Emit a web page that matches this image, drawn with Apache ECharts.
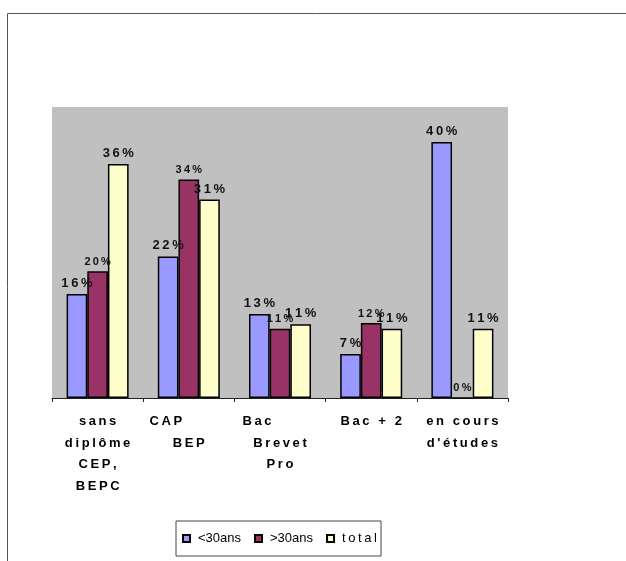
<!DOCTYPE html>
<html><head><meta charset="utf-8">
<script src="https://cdn.jsdelivr.net/npm/echarts@6/dist/echarts.min.js"></script>
<style>html,body{margin:0;padding:0;background:#fff}#c{width:626px;height:561px}</style>
</head><body><div id="c"></div>
<script>
const categories = ['sans diplôme CEP, BEPC', 'CAP BEP', 'Bac Brevet Pro', 'Bac + 2', "en cours d'études"];
const categoryLines = [['sans', 'diplôme', 'CEP,', 'BEPC'], ['CAP', 'BEP'], ['Bac', 'Brevet', 'Pro'], ['Bac + 2'], ['en cours', "d'études"]];
const seriesNames = ['<30ans', '>30ans', 'total'];
const moins30 = [16.1, 21.9, 13.0, 6.8, 39.6];
const plus30 = [19.6, 33.8, 10.7, 11.6, 0];
const total = [36.2, 30.7, 11.4, 10.7, 10.7];

const FONT = '"Liberation Sans", Arial, sans-serif';
const spaced = (s, g) => s.split('').join(g || '\u2009');
const chart = echarts.init(document.getElementById('c'), null, {renderer: 'canvas'});
const colors = ['#9999FF', '#993366', '#FFFFCC'];
const labelSizes = [13, 11, 13];
const data = [moins30, plus30, total];
const shiftLeft = {1: [0], 2: [0]};

chart.setOption({
  animation: false,
  graphic: [
    {type: 'line', shape: {x1: 7.5, y1: 13.5, x2: 626, y2: 13.5}, style: {stroke: '#555', lineWidth: 1}},
    {type: 'line', shape: {x1: 7.5, y1: 13.5, x2: 7.5, y2: 561}, style: {stroke: '#555', lineWidth: 1}}
  ],
  grid: {left: 52, right: 118, top: 107, bottom: 163, show: true, backgroundColor: '#C0C0C0', borderWidth: 0},
  legend: {
    left: 176, top: 521,
    padding: [11, 4, 11, 6], itemGap: 13,
    borderColor: '#444', borderWidth: 1,
    itemWidth: 7, itemHeight: 7, icon: 'rect',
    textStyle: {fontFamily: FONT, fontSize: 13, color: '#000', padding: [0, 0, 0, 3]},
    formatter: n => n === 'total' ? spaced(n) : n,
    data: seriesNames
  },
  xAxis: {
    type: 'category', data: categories,
    axisLine: {lineStyle: {color: '#222', width: 1}},
    axisTick: {show: true, length: 4, lineStyle: {color: '#222'}},
    axisLabel: {
      interval: 0, margin: 13,
      fontFamily: FONT, fontWeight: 'bold', fontSize: 13, color: '#000', lineHeight: 21.5,
      formatter: (v, i) => categoryLines[i].map((ln, k) =>
        (shiftLeft[i] && shiftLeft[i].includes(k)) ? '{s|' + spaced(ln) + '}' : '{n|' + spaced(ln) + '}').join('\n'),
      rich: {
        n: {fontFamily: FONT, fontWeight: 'bold', fontSize: 13, color: '#000', lineHeight: 21.5},
        s: {fontFamily: FONT, fontWeight: 'bold', fontSize: 13, color: '#000', lineHeight: 21.5, padding: [0, 46, 0, 0]}
      }
    }
  },
  yAxis: {type: 'value', min: 0, max: 45, show: false, splitLine: {show: false}},
  series: seriesNames.map((name, s) => ({
    name, type: 'bar', data: data[s],
    barGap: '0%', barCategoryGap: '32%',
    itemStyle: {color: colors[s], borderColor: '#000', borderWidth: 1.5},
    label: {
      show: true, position: 'top', distance: 4,
      fontFamily: FONT, fontWeight: 'bold', fontSize: labelSizes[s], color: '#111',
      formatter: p => spaced(Math.round(p.value) + '%')
    }
  }))
});
</script></body></html>
